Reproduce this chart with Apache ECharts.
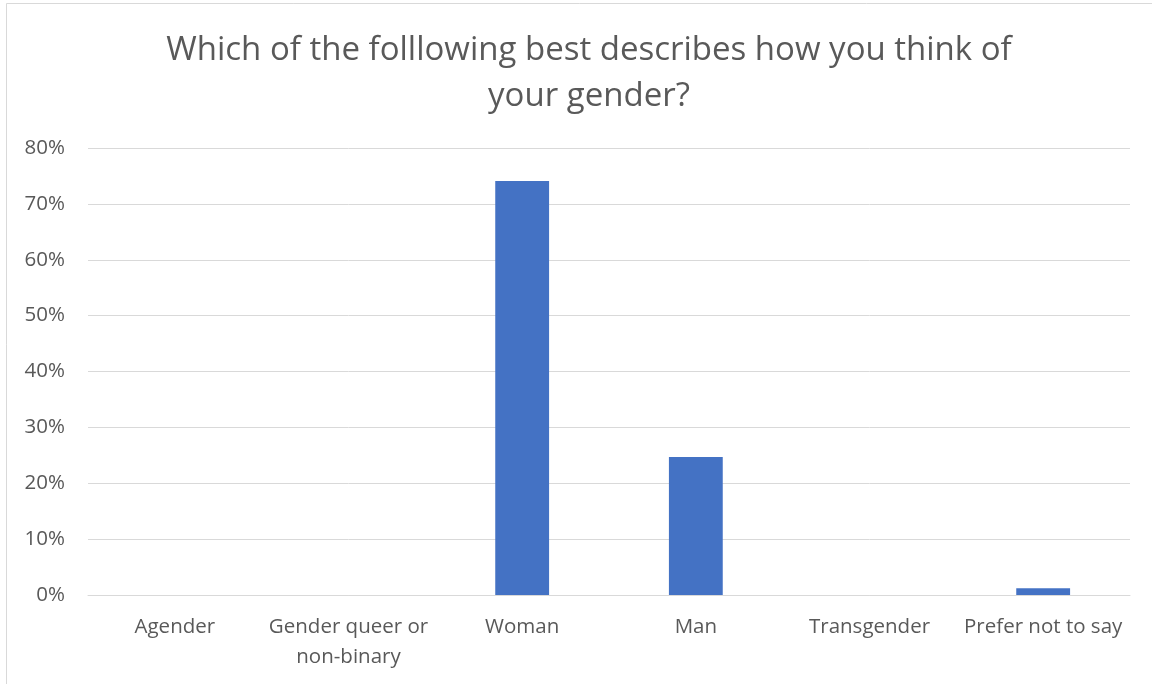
<!DOCTYPE html>
<html><head><meta charset="utf-8">
<script src="https://cdn.jsdelivr.net/npm/echarts@6/dist/echarts.min.js"></script>
<style>html,body{margin:0;padding:0;background:#fff}#c{width:1152px;height:684px}</style>
</head><body><div id="c"></div>
<script>
const titleText = "Which of the folllowing best describes how you think of\nyour gender?";
const categories = ["Agender", "Gender queer or\nnon-binary", "Woman", "Man", "Transgender", "Prefer not to say"];
const values = [0, 0, 74.1, 24.7, 0, 1.2];
const yTicks = { min: 0, max: 80, interval: 10 };

const FONT = "Open Sans";
const chart = echarts.init(document.getElementById('c'), null, { renderer: 'canvas' });
chart.setOption({
  backgroundColor: '#fff',
  animation: false,
  graphic: [{
    type: 'rect', shape: { x: 6.5, y: 3.5, width: 1160, height: 700 },
    style: { fill: 'none', stroke: '#d9d9d9', lineWidth: 1 }, silent: true, z: -1
  }],
  title: {
    text: titleText, left: 584, top: 23, textAlign: 'center',
    textStyle: { fontFamily: FONT, fontSize: 33, fontWeight: 'normal', color: '#595959', lineHeight: 46 }
  },
  grid: { left: 88, right: 22, top: 148, bottom: 89, containLabel: false },
  xAxis: {
    type: 'category', data: categories,
    axisLine: { lineStyle: { color: '#d9d9d9', width: 1 } },
    axisTick: { show: false },
    axisLabel: { fontFamily: FONT, fontSize: 20.5, color: '#595959', margin: 17, lineHeight: 30, interval: 0 }
  },
  yAxis: {
    type: 'value', min: yTicks.min, max: yTicks.max, interval: yTicks.interval,
    axisLine: { show: false }, axisTick: { show: false },
    splitLine: { lineStyle: { color: '#d9d9d9', width: 1 } },
    axisLabel: { fontFamily: FONT, fontSize: 20.5, color: '#595959', margin: 23, formatter: v => v + '%' }
  },
  series: [{
    type: 'bar', data: values, barWidth: '31%',
    itemStyle: { color: '#4472c4' }
  }]
});
</script></body></html>
